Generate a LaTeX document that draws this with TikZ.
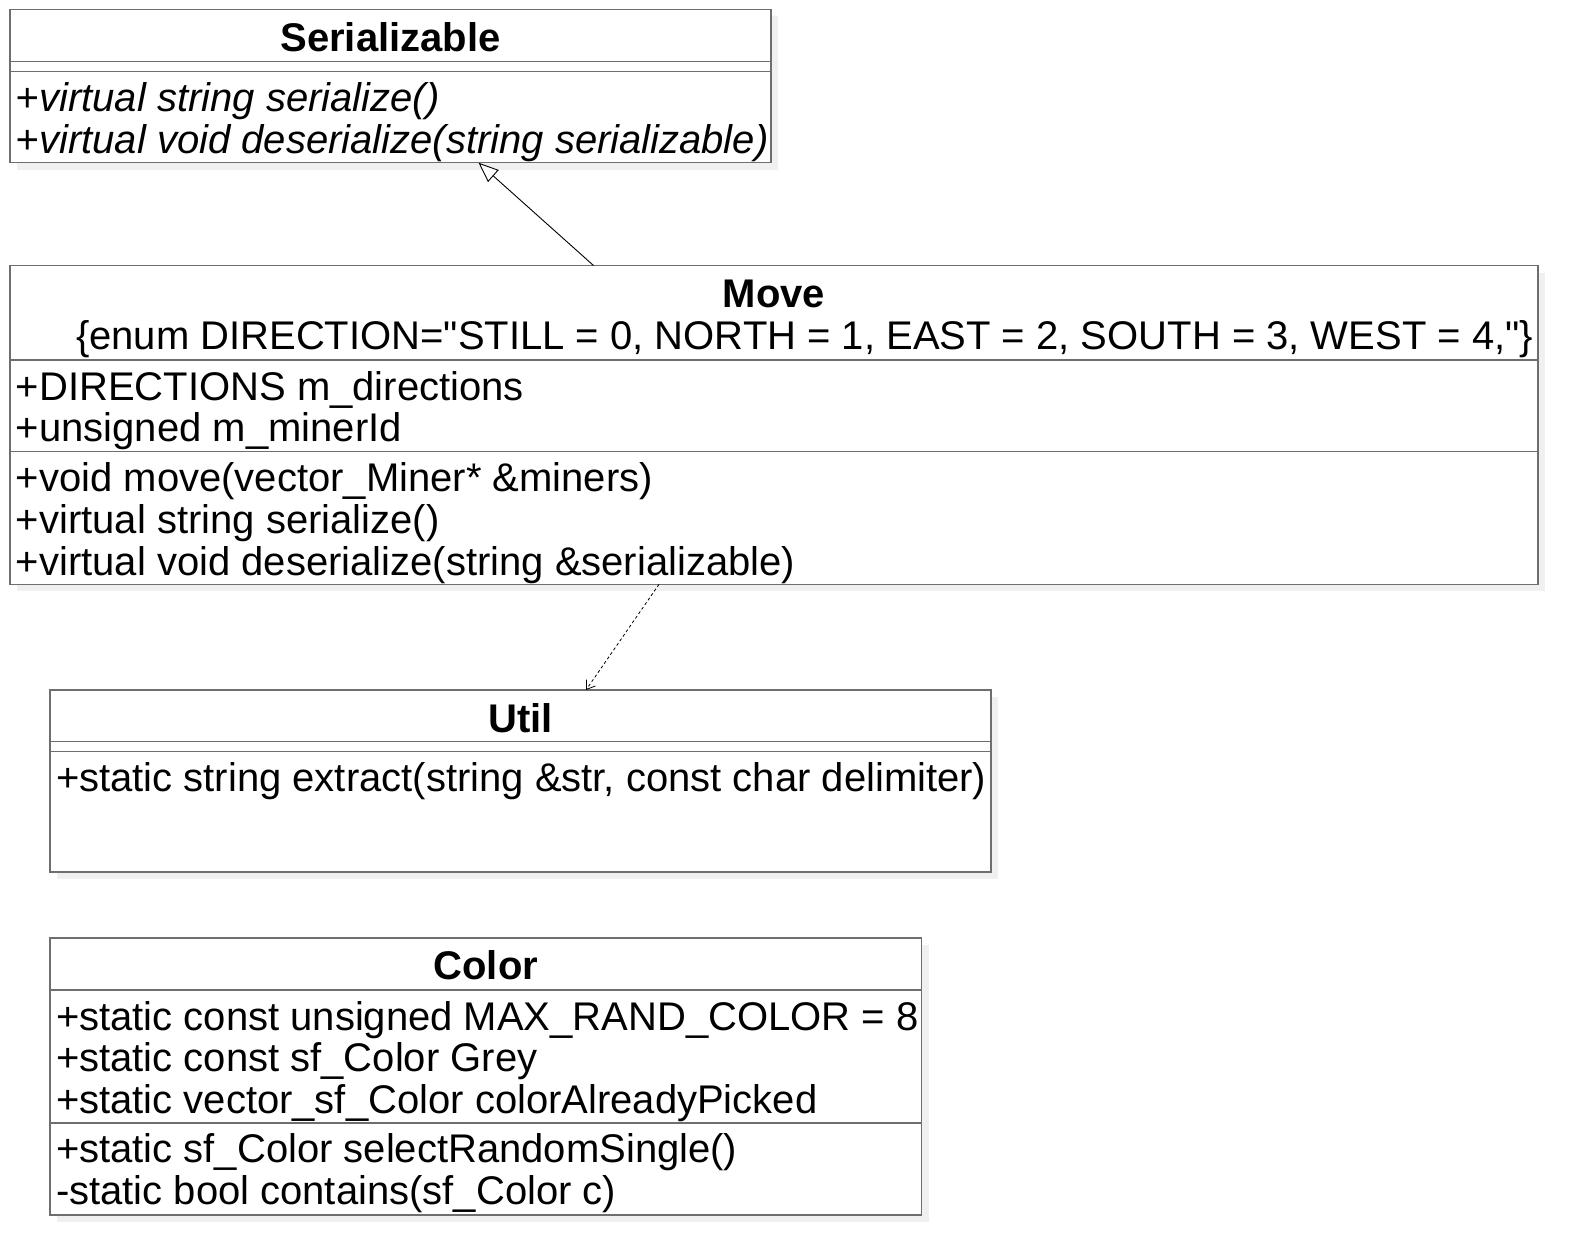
\documentclass[tikz,border=0pt]{standalone}
\usepackage{fontspec}
\setmainfont{Liberation Sans}[Ligatures=TeXOff]
\usetikzlibrary{arrows.meta,shadows}
\definecolor{linec}{HTML}{6E6E6E}
\definecolor{shadc}{HTML}{F0F0F0}
\tikzset{
  umlbox/.style={draw=linec, line width=1.5pt, fill=white, inner sep=0pt, outer sep=0pt,
    anchor=north west, rectangle,
    drop shadow={shadow xshift=7pt, shadow yshift=-7pt, fill=shadc, opacity=1}},
  divider/.style={draw=linec, line width=1.5pt},
  txt/.style={inner sep=0pt, outer sep=0pt, font=\fontsize{40}{42}\selectfont, anchor=base west},
  ttl/.style={inner sep=0pt, outer sep=0pt, font=\fontsize{40}{42}\selectfont\bfseries, anchor=base},
  itxt/.style={txt, font=\fontsize{40}{42}\selectfont\itshape},
  conn/.style={draw=black, line width=0.9pt},
}
\begin{document}
\begin{tikzpicture}[x=1pt,y=-1pt]
\useasboundingbox (0,0) rectangle (1578,1255);

% Serializable
\node[umlbox, minimum width=761pt, minimum height=153.2pt] (ser) at (10,9.5) {};
\draw[divider] ([yshift=-52.2pt]ser.north west) -- ([yshift=-52.2pt]ser.north east);
\draw[divider] ([yshift=-62.2pt]ser.north west) -- ([yshift=-62.2pt]ser.north east);
\node[ttl] (sert) at (390.5,51.5) {Serializable};
\node[itxt] (serm1) at (16,111.5) {+virtual string serialize()};
\node[itxt] (serm2) at (16,153) {+virtual void deserialize(string serializable)};

% Move
\node[umlbox, minimum width=1528pt, minimum height=318.8pt] (move) at (10,265.5) {};
\draw[divider] ([yshift=-94.5pt]move.north west) -- ([yshift=-94.5pt]move.north east);
\draw[divider] ([yshift=-186.2pt]move.north west) -- ([yshift=-186.2pt]move.north east);
\node[ttl] (movet) at (774,307) {Move};
\node[txt] (movee) at (76,349.5) {\{enum DIRECTION="STILL = 0, NORTH = 1, EAST = 2, SOUTH = 3, WEST = 4,"\}};
\node[txt] (movea1) at (16,400) {+DIRECTIONS m\_directions};
\node[txt] (movea2) at (16,441.5) {+unsigned m\_minerId};
\node[txt] (movem1) at (16,491.4) {+void move(vector\_Miner* \&miners)};
\node[txt] (movem2) at (16,533.2) {+virtual string serialize()};
\node[txt] (movem3) at (16,575) {+virtual void deserialize(string \&serializable)};

% Util
\node[umlbox, minimum width=941pt, minimum height=182pt] (util) at (50,690) {};
\draw[divider] ([yshift=-51.7pt]util.north west) -- ([yshift=-51.7pt]util.north east);
\draw[divider] ([yshift=-61.7pt]util.north west) -- ([yshift=-61.7pt]util.north east);
\node[ttl] (utilt) at (520.5,732) {Util};
\node[txt] (utilm1) at (56,791.3) {+static string extract(string \&str, const char delimiter)};

% Color
\node[umlbox, minimum width=871.7pt, minimum height=277pt] (color) at (50,938) {};
\draw[divider] ([yshift=-52pt]color.north west) -- ([yshift=-52pt]color.north east);
\draw[divider] ([yshift=-185pt]color.north west) -- ([yshift=-185pt]color.north east);
\node[ttl] (colort) at (485.85,979.5) {Color};
\node[txt] (colora1) at (56,1030) {+static const unsigned MAX\_RAND\_COLOR = 8};
\node[txt] (colora2) at (56,1071.6) {+static const sf\_Color Grey};
\node[txt] (colora3) at (56,1113.3) {+static vector\_sf\_Color colorAlreadyPicked};
\node[txt] (colorm1) at (56,1162.7) {+static sf\_Color selectRandomSingle()};
\node[txt] (colorm2) at (56,1204.5) {-static bool contains(sf\_Color c)};

% Connectors
\draw[conn, -{Triangle[open, length=20pt, width=16pt, fill=white]}]
  ([xshift=583.5pt]move.north west) -- ([xshift=468.5pt]ser.south west);
\draw[conn, line width=0.8pt, dash pattern=on 3pt off 2.5pt, -{Straight Barb[length=8pt, width=11pt, line width=0.8pt]}]
  ([xshift=649pt]move.south west) -- ([xshift=536pt]util.north west);
\end{tikzpicture}
\end{document}
